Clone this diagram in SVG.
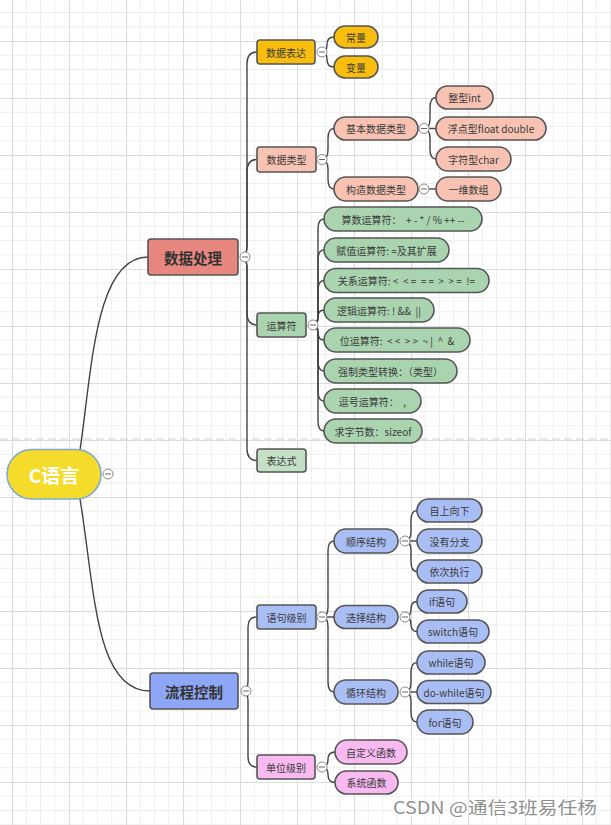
<svg xmlns="http://www.w3.org/2000/svg" width="611" height="825" viewBox="0 0 611 825">
<defs>
<pattern id="grid" patternUnits="userSpaceOnUse" x="12" y="41" width="57" height="57">
<path d="M14.25 0V57M28.5 0V57M42.75 0V57M0 14.25H57M0 28.5H57M0 42.75H57" stroke="#eeeeee" stroke-width="1" fill="none"/>
<path d="M0.5 0V57M0 0.5H57" stroke="#dcdcdc" stroke-width="1.2" fill="none"/>
</pattern>
<style>
text{font-family:"Noto Sans CJK SC","Noto Sans",sans-serif;fill:#3a3a3a;font-size:10px;text-anchor:middle;dominant-baseline:central;white-space:pre}
.n{stroke:#555;stroke-width:1.6}
.big{font-size:14.5px;font-weight:bold;fill:#333}
.gold{fill:#F9BE0D}
.peach{fill:#F8C3B2}
.green{fill:#A9D4AF}
.lgreen{fill:#C3DFC6}
.blue{fill:#AABEF6}
.pink{fill:#F9B9F1}
.conn path{fill:none;stroke:#444;stroke-width:1.4}
.tog circle{fill:#fff;stroke:#8a8a8a;stroke-width:1}
.tog path{stroke:#666;stroke-width:1}
</style>
</defs>
<rect width="611" height="825" fill="#ffffff"/>
<rect width="611" height="825" fill="url(#grid)"/>
<line x1="0" y1="439" x2="611" y2="439" stroke="#cfcfcf" stroke-width="1.2" stroke-dasharray="8 4"/>

<g id="connectors" class="conn">
<path d="M80 450C92 370 95 257 148 257"/>
<path d="M80 499C95 590 95 691 150 691"/>
<path d="M241 257Q247 257 247 245L247 64Q247 52 257 52"/>
<path d="M241 257Q247 257 247 245L247 171.5Q247 159.5 257 159.5"/>
<path d="M241 257Q247 257 247 269L247 313Q247 325 257 325"/>
<path d="M241 257Q247 257 247 269L247 448.5Q247 460.5 257 460.5"/>
<path d="M322 52Q327 52 327 44.5Q327 37 334 37"/>
<path d="M322 52Q327 52 327 59.5Q327 67 334 67"/>
<path d="M322 159.5Q328 159.5 328 149.5L328 138.5Q328 128.5 334 128.5"/>
<path d="M322 159.5Q328 159.5 328 169.5L328 179Q328 189 334 189"/>
<path d="M424 128.5Q430 128.5 430 118.5L430 107.5Q430 97.5 436 97.5"/>
<path d="M424 128.5L436 128.5"/>
<path d="M424 128.5Q430 128.5 430 138.5L430 149Q430 159 436 159"/>
<path d="M424 189L436 189"/>
<path d="M313 325Q318 325 318 315L318 229Q318 219 324 219"/>
<path d="M313 325Q318 325 318 315L318 260Q318 250 324 250"/>
<path d="M313 325Q318 325 318 315L318 290.5Q318 280.5 324 280.5"/>
<path d="M313 325Q318 325 318 317.5Q318 310 324 310"/>
<path d="M313 325Q318 325 318 332.5Q318 340 324 340"/>
<path d="M313 325Q318 325 318 335L318 361Q318 371 324 371"/>
<path d="M313 325Q318 325 318 335L318 391Q318 401 324 401"/>
<path d="M313 325Q318 325 318 335L318 421Q318 431 324 431"/>
<path d="M242 691Q248 691 248 681L248 627Q248 617 257 617"/>
<path d="M242 691Q248 691 248 701L248 757Q248 767 257 767"/>
<path d="M322 617Q328 617 328 607L328 551Q328 541 334 541"/>
<path d="M322 617L334 617"/>
<path d="M322 617Q328 617 328 627L328 682Q328 692 334 692"/>
<path d="M405 541Q411 541 411 531L411 520.5Q411 510.5 417 510.5"/>
<path d="M405 541L417 541"/>
<path d="M405 541Q411 541 411 551L411 561.5Q411 571.5 417 571.5"/>
<path d="M405 617Q411 617 411 609.25Q411 601.5 417 601.5"/>
<path d="M405 617Q411 617 411 624.25Q411 631.5 417 631.5"/>
<path d="M405 692Q411 692 411 682L411 672.5Q411 662.5 417 662.5"/>
<path d="M405 692L417 692"/>
<path d="M405 692Q411 692 411 702L411 712Q411 722 417 722"/>
<path d="M322 767Q328 767 328 759.5Q328 752 335 752"/>
<path d="M322 767Q328 767 328 774.75Q328 782.5 335 782.5"/>
</g>

<g id="root">
<rect x="7" y="449.5" width="94" height="49.5" rx="24.75" fill="#F6DC2A" stroke="#7FA9D2" stroke-width="1.6"/>
<text x="54" y="474" style="font-size:19px;font-weight:bold;fill:#ffffff">C语言</text>
</g>

<g id="n-data-proc"><rect class="n" x="148" y="239" width="90" height="36" rx="3" fill="#E8877F"/><text class="big" x="193" y="257">数据处理</text></g>
<g id="n-data-expr"><rect class="n gold" x="257" y="40" width="58" height="24" rx="3"/><text x="286" y="52">数据表达</text></g>
<g id="n-const"><rect class="n gold" x="334" y="26" width="44" height="22" rx="11"/><text x="356" y="37">常量</text></g>
<g id="n-var"><rect class="n gold" x="334" y="56" width="44" height="22" rx="11"/><text x="356" y="67">变量</text></g>
<g id="n-dtype"><rect class="n peach" x="257" y="147" width="59" height="25" rx="3"/><text x="286.5" y="159.5">数据类型</text></g>
<g id="n-basic"><rect class="n peach" x="334" y="117" width="84" height="23" rx="11.5"/><text x="376" y="128.5">基本数据类型</text></g>
<g id="n-int"><rect class="n peach" x="436" y="86" width="57" height="23" rx="11.5"/><text x="464.5" y="97.5">整型int</text></g>
<g id="n-float"><rect class="n peach" x="436" y="117" width="110" height="23" rx="11.5"/><text x="491" y="128.5">浮点型float double</text></g>
<g id="n-char"><rect class="n peach" x="436" y="147" width="75" height="24" rx="12"/><text x="473.5" y="159">字符型char</text></g>
<g id="n-struct"><rect class="n peach" x="334" y="177" width="84" height="24" rx="12"/><text x="376" y="189">构造数据类型</text></g>
<g id="n-array"><rect class="n peach" x="436" y="177" width="65" height="24" rx="12"/><text x="468.5" y="189">一维数组</text></g>
<g id="n-ops"><rect class="n green" x="257" y="313" width="49" height="24" rx="3"/><text x="281.5" y="325">运算符</text></g>
<g id="n-op1"><rect class="n green" x="324" y="207" width="158" height="24" rx="12"/><text x="403" y="219">算数运算符：  + - * / % ++ --</text></g>
<g id="n-op2"><rect class="n green" x="324" y="238" width="125" height="24" rx="12"/><text x="386.5" y="250">赋值运算符: =及其扩展</text></g>
<g id="n-op3"><rect class="n green" x="324" y="268.5" width="165" height="24" rx="12"/><text x="406.5" y="280.5">关系运算符: &lt;  &lt; =  = =  &gt;  &gt; =  !=</text></g>
<g id="n-op4"><rect class="n green" x="324" y="298" width="110" height="24" rx="12"/><text x="379" y="310">逻辑运算符: ! &amp;&amp;  ||</text></g>
<g id="n-op5"><rect class="n green" x="324" y="328" width="146" height="24" rx="12"/><text x="397" y="340">位运算符:  &lt; &lt;  &gt; &gt;  ~ |  ^  &amp;</text></g>
<g id="n-op6"><rect class="n green" x="324" y="359" width="133" height="24" rx="12"/><text x="390.5" y="371">强制类型转换：（类型）</text></g>
<g id="n-op7"><rect class="n green" x="324" y="389" width="97" height="24" rx="12"/><text x="372.5" y="401">逗号运算符：  ,</text></g>
<g id="n-op8"><rect class="n green" x="324" y="419" width="98" height="24" rx="12"/><text x="373" y="431">求字节数：sizeof</text></g>
<g id="n-expr"><rect class="n lgreen" x="257" y="449" width="49" height="23" rx="3"/><text x="281.5" y="460.5">表达式</text></g>

<g id="n-flow"><rect class="n" x="150" y="673" width="88" height="36" rx="3" fill="#8DA6F5"/><text class="big" x="194" y="691">流程控制</text></g>
<g id="n-stmt"><rect class="n blue" x="257" y="605" width="59" height="24" rx="3"/><text x="286.5" y="617">语句级别</text></g>
<g id="n-seq"><rect class="n blue" x="334" y="529" width="64" height="24" rx="12"/><text x="366" y="541">顺序结构</text></g>
<g id="n-seq1"><rect class="n blue" x="417" y="499" width="65" height="23" rx="11.5"/><text x="449.5" y="510.5">自上向下</text></g>
<g id="n-seq2"><rect class="n blue" x="417" y="529" width="65" height="24" rx="12"/><text x="449.5" y="541">没有分支</text></g>
<g id="n-seq3"><rect class="n blue" x="417" y="560" width="65" height="23" rx="11.5"/><text x="449.5" y="571.5">依次执行</text></g>
<g id="n-sel"><rect class="n blue" x="334" y="605.5" width="64" height="23" rx="11.5"/><text x="366" y="617">选择结构</text></g>
<g id="n-if"><rect class="n blue" x="417" y="590" width="50" height="23" rx="11.5"/><text x="442" y="601.5">if语句</text></g>
<g id="n-switch"><rect class="n blue" x="417" y="620" width="72" height="23" rx="11.5"/><text x="453" y="631.5">switch语句</text></g>
<g id="n-loop"><rect class="n blue" x="334" y="680" width="64" height="24" rx="12"/><text x="366" y="692">循环结构</text></g>
<g id="n-while"><rect class="n blue" x="417" y="651" width="68" height="23" rx="11.5"/><text x="451" y="662.5">while语句</text></g>
<g id="n-dowhile"><rect class="n blue" x="417" y="680.5" width="74" height="23" rx="11.5"/><text x="454" y="692">do-while语句</text></g>
<g id="n-for"><rect class="n blue" x="417" y="710" width="56" height="24" rx="12"/><text x="445" y="722">for语句</text></g>
<g id="n-unit"><rect class="n pink" x="257" y="755" width="58" height="24" rx="3"/><text x="286" y="767">单位级别</text></g>
<g id="n-custom"><rect class="n pink" x="335" y="740" width="72" height="24" rx="12"/><text x="371" y="752">自定义函数</text></g>
<g id="n-sys"><rect class="n pink" x="335" y="771" width="63" height="23" rx="11.5"/><text x="366.5" y="782.5">系统函数</text></g>

<g id="toggles" class="tog">
<circle cx="108" cy="474" r="5"/><path d="M105 474H111"/>
<circle cx="245" cy="257" r="5"/><path d="M242 257H248"/>
<circle cx="322" cy="52" r="5"/><path d="M319 52H325"/>
<circle cx="322" cy="159.5" r="5"/><path d="M319 159.5H325"/>
<circle cx="424" cy="128.5" r="5"/><path d="M421 128.5H427"/>
<circle cx="424" cy="189" r="5"/><path d="M421 189H427"/>
<circle cx="313" cy="325" r="5"/><path d="M310 325H316"/>
<circle cx="246" cy="691" r="5"/><path d="M243 691H249"/>
<circle cx="322" cy="617" r="5"/><path d="M319 617H325"/>
<circle cx="405" cy="541" r="5"/><path d="M402 541H408"/>
<circle cx="405" cy="617" r="5"/><path d="M402 617H408"/>
<circle cx="405" cy="692" r="5"/><path d="M402 692H408"/>
<circle cx="322" cy="767" r="5"/><path d="M319 767H325"/>
</g>

<text x="597" y="806" textLength="204" lengthAdjust="spacingAndGlyphs" style="font-size:17px;text-anchor:end;fill:#8f8f8f;stroke:#ffffff;stroke-width:2.5;paint-order:stroke">CSDN @通信3班易任杨</text>
</svg>
